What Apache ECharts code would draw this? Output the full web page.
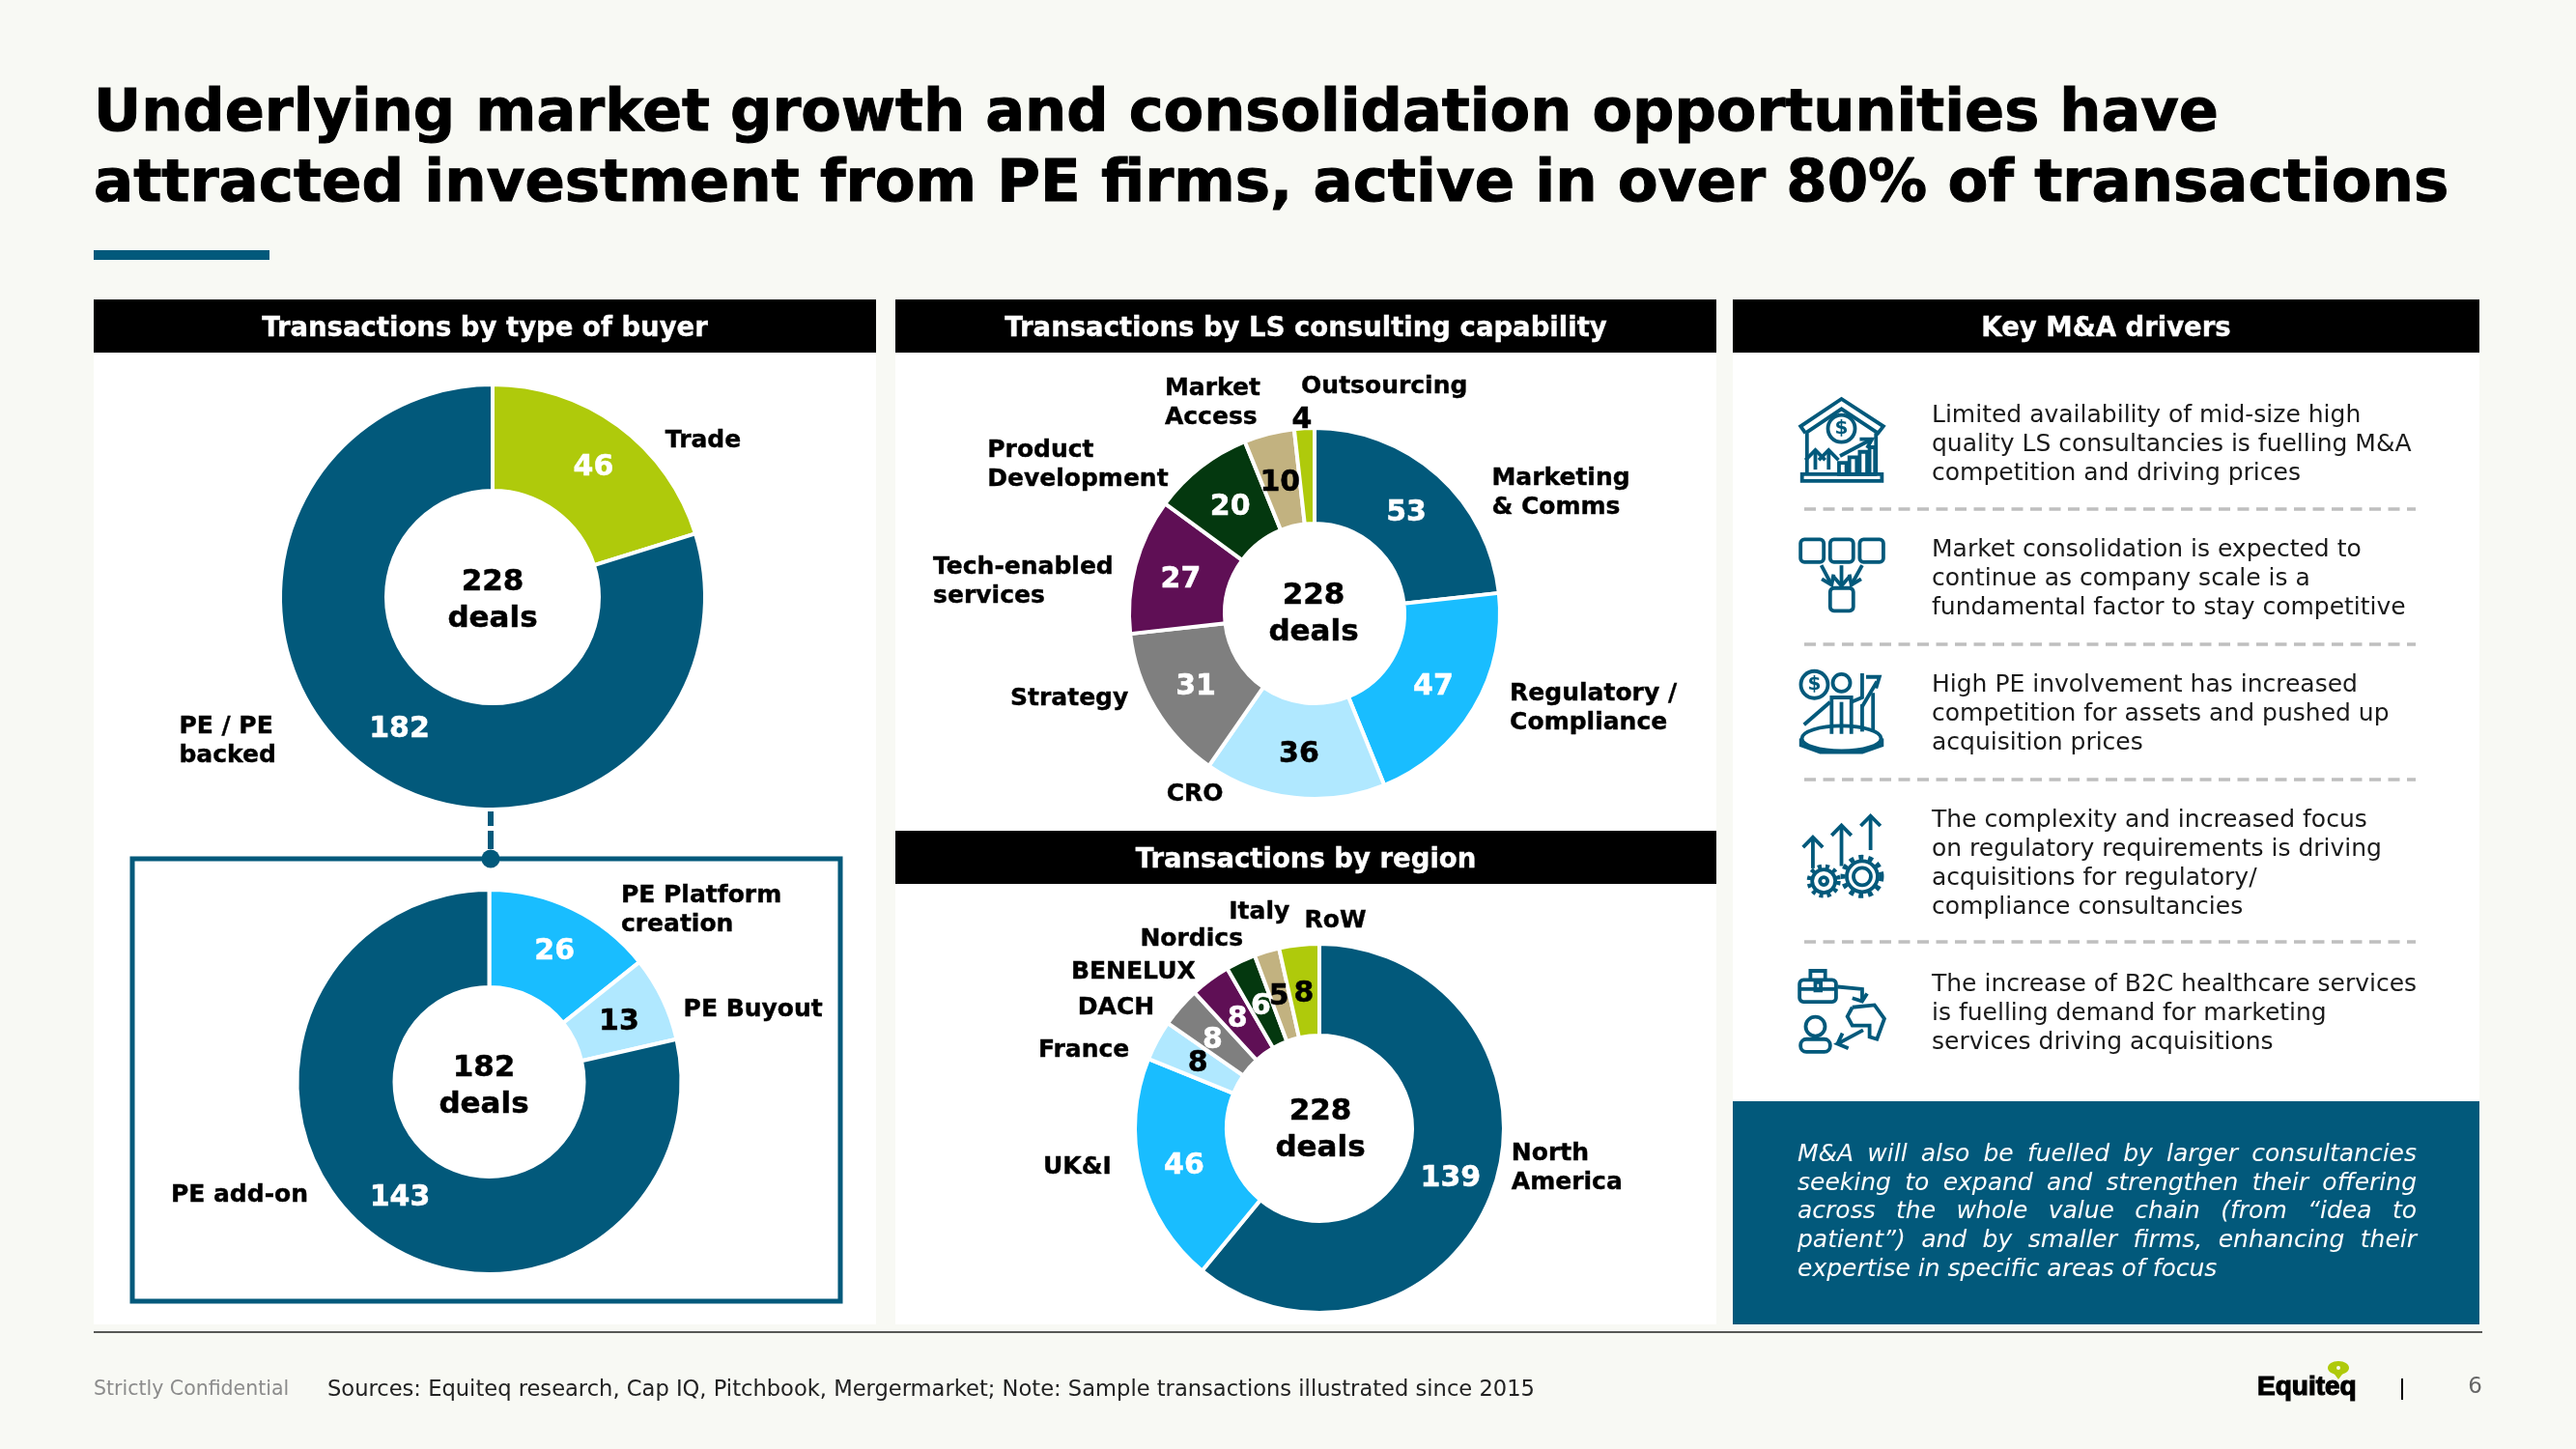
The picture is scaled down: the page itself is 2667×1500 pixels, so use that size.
<!DOCTYPE html>
<html>
<head>
<meta charset="utf-8">
<style>html,body{margin:0;padding:0;background:#f8f9f4}#chart{width:2667px;height:1500px}</style>
<script src="https://cdn.jsdelivr.net/npm/echarts@6/dist/echarts.min.js"></script>
</head>
<body>
<div id="chart"></div>
<script>
var buyerNames = ['Trade', 'PE / PE\nbacked'];
var buyerValues = [46, 182];
var peNames = ['PE Platform\ncreation', 'PE Buyout', 'PE add-on'];
var peValues = [26, 13, 143];
var capabilityNames = ['Marketing\n& Comms', 'Regulatory /\nCompliance', 'CRO', 'Strategy', 'Tech-enabled\nservices', 'Product\nDevelopment', 'Market\nAccess', 'Outsourcing'];
var capabilityValues = [53, 47, 36, 31, 27, 20, 10, 4];
var regionNames = ['North\nAmerica', 'UK&I', 'France', 'DACH', 'BENELUX', 'Nordics', 'Italy', 'RoW'];
var regionValues = [139, 46, 8, 8, 8, 6, 5, 8];
var driverTexts = [
    ['Limited availability of mid-size high', 'quality LS consultancies is fuelling M&A', 'competition and driving prices'],
    ['Market consolidation is expected to', 'continue as company scale is a', 'fundamental factor to stay competitive'],
    ['High PE involvement has increased', 'competition for assets and pushed up', 'acquisition prices'],
    ['The complexity and increased focus', 'on regulatory requirements is driving', 'acquisitions for regulatory/', 'compliance consultancies'],
    ['The increase of B2C healthcare services', 'is fuelling demand for marketing', 'services driving acquisitions']
];
var noteLines = [
    'M&A will also be fuelled by larger consultancies',
    'seeking to expand and strengthen their offering',
    'across the whole value chain (from “idea to',
    'patient”) and by smaller firms, enhancing their',
    'expertise in specific areas of focus'
];

var NAVY = '#02597b', LIME = '#afca0b', BLUE = '#19bdff', PALE = '#b0e8ff', GREY = '#7f7f7f',
    PURPLE = '#5f0f55', GREEN = '#04380f', TAN = '#c2b280';
var FONT = '"DejaVu Sans", Verdana, sans-serif';
var S = 2667 / 1568;
var els = [];

function text(str, x, y, size, opt) {
    opt = opt || {};
    var color = opt.color || '#000';
    var style = {
        text: str, x: x, y: y,
        font: (opt.italic ? 'italic ' : '') + (opt.bold ? 'bold ' : '') + size + 'px ' + (opt.family || FONT),
        fill: color,
        align: opt.align || 'left', textAlign: opt.align || 'left',
        verticalAlign: 'middle', textVerticalAlign: 'middle'
    };
    // the original face is heavier than DejaVu Bold
    if (opt.heavy) {
        style.stroke = color;
        style.lineWidth = opt.heavy;
    }
    els.push({ type: 'text', style: style });
}
function rect(x, y, w, h, fill) {
    els.push({ type: 'rect', shape: { x: x, y: y, width: w, height: h }, style: { fill: fill } });
}
function header(str, x, w, y) {
    rect(x, y, w, 55, '#000');
    text(str, x + w / 2, y + 30.5, 27.5, { bold: true, color: '#fff', align: 'center', heavy: 0.4 });
}
// names come from the data arrays, positions are in preview pixels
function names(list, pos) {
    list.forEach(function (name, i) {
        name.split('\n').forEach(function (line, j) {
            text(line, pos[i][0] * S, pos[i][1] * S + 2.5 + j * 30, 25, { bold: true, heavy: 0.4 });
        });
    });
}
function centre(n, x, y) {
    text(String(n), x, y - 16, 31, { bold: true, align: 'center', heavy: 0.5 });
    text('deals', x, y + 22, 31, { bold: true, align: 'center', heavy: 0.5 });
}

// panels
rect(97, 310, 810, 1061, '#fff');
rect(927, 310, 850, 1061, '#fff');
rect(1794, 310, 773, 1061, '#fff');
header('Transactions by type of buyer', 97, 810, 310);
header('Transactions by LS consulting capability', 927, 850, 310);
header('Transactions by region', 927, 850, 860);
header('Key M&A drivers', 1794, 773, 310);

// title
text('Underlying market growth and consolidation opportunities have', 97, 119, 60.6, { bold: true, heavy: 1 });
text('attracted investment from PE firms, active in over 80% of transactions', 97, 192, 61, { bold: true, heavy: 1 });
rect(97, 259, 182, 10, NAVY);

// PE box and connector
els.push({ type: 'rect', shape: { x: 137, y: 889, width: 733, height: 458 }, style: { fill: 'none', stroke: NAVY, lineWidth: 5 } });
els.push({ type: 'line', shape: { x1: 508, y1: 836, x2: 508, y2: 882 }, style: { stroke: NAVY, lineWidth: 6, lineDash: [19, 5] } });
els.push({ type: 'circle', shape: { cx: 508, cy: 889, r: 9.5 }, style: { fill: NAVY } });

names(buyerNames, [[405, 267], [109, 441]]);
names(peNames, [[378, 544], [416, 613], [104, 726]]);
names(capabilityNames, [[908, 290], [919, 421], [710, 482], [615, 424], [568, 344], [601, 273], [709, 235], [792, 234]]);
names(regionNames, [[920, 701], [635, 709], [632, 638], [656, 612], [652, 590], [694, 570], [748, 554], [794, 559]]);
centre(228, 510, 619);
centre(182, 501, 1122);
centre(228, 1360, 633);
centre(228, 1367, 1167);

// drivers
var driverRows = [430, 569.5, 709.5, 849.5, 1019.5];
driverTexts.forEach(function (lines, i) {
    lines.forEach(function (line, j) {
        text(line, 2000, driverRows[i] + j * 30, 25, { color: '#1a1a1a' });
    });
});
[527, 667, 807, 975].forEach(function (y) {
    els.push({ type: 'line', shape: { x1: 1868, y1: y, x2: 2501, y2: y }, style: { stroke: '#bfbfbf', lineWidth: 3.5, lineDash: [12, 7.5] } });
});

// icons, coordinates
function P(x, y) { return [1780 + x / 1.96, 380 + y / 2.12]; }
var iconLine = { stroke: NAVY, lineWidth: 3.8, fill: 'none' };
function pl(points) {
    els.push({ type: 'polyline', shape: { points: points.map(function (p) { return P(p[0], p[1]); }) }, style: iconLine });
}
function box(x1, y1, x2, y2, r) {
    var a = P(x1, y1), b = P(x2, y2);
    els.push({ type: 'rect', shape: { x: a[0], y: a[1], width: b[0] - a[0], height: b[1] - a[1], r: r || 0 }, style: iconLine });
}
function ci(x, y, r, dash) {
    var a = P(x, y);
    var st = { stroke: NAVY, lineWidth: dash ? 5 : 3.8, fill: 'none' };
    if (dash) st.lineDash = dash;
    els.push({ type: 'circle', shape: { cx: a[0], cy: a[1], r: r }, style: st });
}
function upArrow(x, y1, y2) {
    pl([[x, y2], [x, y1]]);
    pl([[x - 20, y1 + 22], [x, y1], [x + 20, y1 + 22]]);
}
function dollar(x, y) {
    var a = P(x, y);
    text('$', a[0], a[1], 20, { bold: true, color: NAVY, align: 'center' });
}
// house
pl([[175, 145], [165, 130], [248, 70], [333, 130], [322, 145], [248, 92], [175, 145]]);
pl([[178, 145], [178, 235]]); pl([[318, 145], [318, 235]]);
box(168, 235, 330, 250);
ci(248, 135, 14); dollar(248, 135);
pl([[245, 195], [310, 158]]); pl([[285, 158], [310, 158], [300, 178]]);
box(243, 210, 258, 235); box(264, 198, 279, 235); box(285, 186, 300, 235); box(305, 176, 316, 235);
upArrow(195, 182, 225); upArrow(222, 182, 225);
// merging boxes
box(165, 378, 212, 428, 4); box(225, 378, 272, 428, 4); box(285, 378, 333, 428, 4); box(225, 485, 272, 535, 4);
pl([[248, 435], [248, 480]]); pl([[232, 460], [248, 480], [264, 460]]);
pl([[207, 435], [228, 478]]); pl([[208, 465], [228, 478], [232, 455]]);
pl([[290, 435], [268, 478]]); pl([[264, 455], [268, 478], [288, 465]]);
// investor
ci(193, 697, 14); dollar(193, 697);
ci(248, 693, 9);
pl([[228, 805], [228, 725], [268, 725], [268, 805]]); pl([[248, 735], [248, 805]]);
pl([[172, 785], [225, 735]]);
pl([[268, 735], [290, 725], [290, 672]]); pl([[290, 745], [320, 690]]); pl([[298, 680], [325, 680], [318, 705]]);
pl([[312, 715], [312, 800]]); pl([[290, 740], [290, 800]]);
var ellC = P(248, 815);
els.push({ type: 'ellipse', shape: { cx: ellC[0], cy: ellC[1], rx: 41, ry: 13 }, style: iconLine });
pl([[166, 815], [166, 830], [205, 845], [290, 845], [330, 830], [330, 815]]);
// arrows and gears
upArrow(190, 1032, 1100); upArrow(248, 1006, 1095); upArrow(307, 985, 1060);
ci(212, 1128, 12); ci(212, 1128, 15, [4, 4]); ci(212, 1128, 4);
ci(290, 1118, 16); ci(290, 1118, 20, [5, 5]); ci(290, 1118, 9);
// briefcase, person, hand
box(163, 1345, 237, 1393, 4);
pl([[185, 1345], [185, 1325], [215, 1325], [215, 1345]]);
pl([[163, 1365], [237, 1365]]);
box(195, 1350, 206, 1368);
pl([[240, 1360], [290, 1365], [290, 1392]]); pl([[270, 1385], [290, 1392], [300, 1375]]);
ci(195, 1447, 10);
box(165, 1475, 225, 1503, 6);
pl([[292, 1455], [240, 1485], [262, 1495]]); pl([[240, 1485], [250, 1462]]);
pl([[270, 1405], [315, 1400], [335, 1430], [320, 1475], [305, 1470], [305, 1445], [270, 1445], [260, 1425], [270, 1405]]);

// note box, justified word by word
rect(1794, 1140, 773, 231, NAVY);
var ctx = document.createElement('canvas').getContext('2d');
ctx.font = 'italic 25px ' + FONT;
noteLines.forEach(function (line, i) {
    var words = line.split(' ');
    var y = 1195.5 + i * 29.7;
    var left = 1861, right = 2502;
    if (i === noteLines.length - 1) {
        text(line, left, y, 25, { italic: true, color: '#fff' });
        return;
    }
    var used = words.reduce(function (s, w) { return s + ctx.measureText(w).width; }, 0);
    var gap = (right - left - used) / (words.length - 1);
    var x = left;
    words.forEach(function (w) {
        text(w, x, y, 25, { italic: true, color: '#fff' });
        x += ctx.measureText(w).width + gap;
    });
});

// footer
els.push({ type: 'line', shape: { x1: 97, y1: 1379, x2: 2570, y2: 1379 }, style: { stroke: '#222', lineWidth: 1.5 } });
text('Strictly Confidential', 97, 1439, 20.5, { color: '#8c8c8c' });
text('Sources: Equiteq research, Cap IQ, Pitchbook, Mergermarket; Note: Sample transactions illustrated since 2015', 339, 1439, 22.6, { color: '#222' });
text('Equiteq', 2337, 1436, 28, { bold: true, heavy: 1.2, family: '"Liberation Sans Narrow", "Liberation Sans", sans-serif' });
els.push({ type: 'ellipse', shape: { cx: 2421, cy: 1416, rx: 11, ry: 7 }, style: { fill: LIME } });
els.push({ type: 'polygon', shape: { points: [[2415, 1420], [2427, 1420], [2421, 1428]] }, style: { fill: LIME } });
els.push({ type: 'circle', shape: { cx: 2421, cy: 1416, r: 2 }, style: { fill: '#f8f9f4' } });
els.push({ type: 'line', shape: { x1: 2487, y1: 1427, x2: 2487, y2: 1449 }, style: { stroke: '#000', lineWidth: 2 } });
text('6', 2570, 1436, 23, { color: '#666', align: 'right' });

// one donut series, nudge holds small label offsets per slice
function donut(nameList, values, colors, labelColors, cx, cy, inner, outer, nudge) {
    return {
        type: 'pie',
        center: [cx, cy],
        radius: [inner - 2, outer + 2],
        startAngle: 90,
        animation: false,
        silent: true,
        avoidLabelOverlap: false,
        labelLine: { show: false },
        itemStyle: { borderColor: '#fff', borderWidth: 4 },
        labelLayout: function (p) {
            return { dx: nudge[p.dataIndex][0], dy: nudge[p.dataIndex][1] };
        },
        data: values.map(function (v, i) {
            return {
                name: nameList[i],
                value: v,
                itemStyle: { color: colors[i] },
                label: {
                    show: true, position: 'inside', formatter: '{c}',
                    color: labelColors[i], fontFamily: FONT, fontWeight: 'bold', fontSize: 30,
                    textBorderColor: labelColors[i], textBorderWidth: 0.5
                }
            };
        })
    };
}

var myChart = echarts.init(document.getElementById('chart'));
var W = '#fff', K = '#000';
myChart.setOption({
    backgroundColor: '#f8f9f4',
    animation: false,
    graphic: { elements: els },
    series: [
        donut(buyerNames, buyerValues, [LIME, NAVY], [W, W], 510, 618, 112, 218,
            [[5, 2], [3, 2]]),
        donut(peNames, peValues, [BLUE, PALE, NAVY], [W, K, W], 506.5, 1120, 100, 197,
            [[2, 2], [-2, 4], [2, 2]]),
        donut(capabilityNames, capabilityValues, [NAVY, BLUE, PALE, GREY, PURPLE, GREEN, TAN, LIME], [W, W, K, W, W, W, K, K], 1361, 635, 95, 190,
            [[-2, 5], [-2, 2], [0, 2], [2, 2], [2, 3], [2, 5], [0, 6], [-5, -55]]),
        donut(regionNames, regionValues, [NAVY, BLUE, PALE, GREY, PURPLE, GREEN, TAN, LIME], [W, W, K, W, W, W, K, K], 1366, 1168, 98, 189,
            [[-2, 3], [2, 3], [3, 3], [0, 5], [2, 5], [2, 7], [0, 5], [0, 7]])
    ]
});
</script>
</body>
</html>
